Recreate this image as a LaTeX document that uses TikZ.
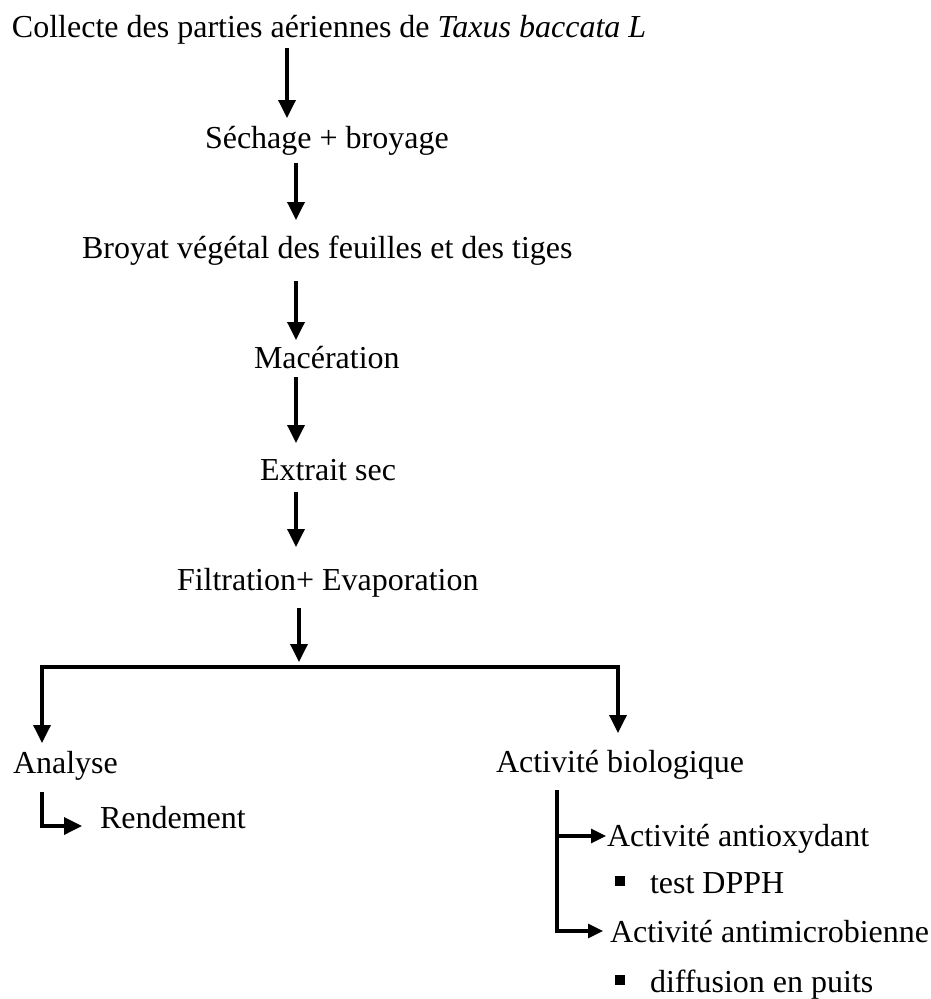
\documentclass[tikz,border=0pt]{standalone}
\usepackage{fontspec}
\setmainfont{Liberation Serif}
\usetikzlibrary{arrows.meta}
\begin{document}
\begin{tikzpicture}[x=1pt,y=-1pt,
  lbl/.style={anchor=base west, inner sep=0pt, outer sep=0pt,
    font=\fontsize{32}{38}\selectfont, text height=22pt, text depth=7pt},
  arr/.style={line width=3.5pt, line join=miter, -{Triangle[width=17pt,length=18pt]}},
  sarr/.style={line width=3.1pt, line join=miter, -{Triangle[width=14pt,length=15pt]}},
  bullet/.style={fill=black, inner sep=0pt, minimum width=10pt, minimum height=10pt}]
\useasboundingbox (0,0) rectangle (931,999);
% text nodes
\node[lbl] (title) at (12,37) {Collecte des parties aériennes de \textit{Taxus baccata L}};
\node[lbl] (sech) at (205,148) {Séchage + broyage};
\node[lbl] (broy) at (82,258) {Broyat végétal des feuilles et des tiges};
\node[lbl] (mac) at (254,368) {Macération};
\node[lbl] (ext) at (260,480) {Extrait sec};
\node[lbl] (filt) at (177,590) {Filtration+ Evaporation};
\node[lbl] (ana) at (13,773) {Analyse};
\node[lbl] (bio) at (496,772) {Activité biologique};
\node[lbl] (rend) at (100,828) {Rendement};
\node[lbl] (antiox) at (607,846) {Activité antioxydant};
\node[lbl] (dpph) at (650,893) {test DPPH};
\node[lbl] (antimic) at (610,942) {Activité antimicrobienne};
\node[lbl] (diff) at (650,992) {diffusion en puits};
\node[bullet] (b1) at (620,881) {};
\node[bullet] (b2) at (620,980) {};
% arrow columns
\coordinate (k1) at (287,0);
\coordinate (k2) at (296,0);
\coordinate (k6) at (299,0);
\coordinate (jm) at (299,667);
\coordinate (jl) at (42,667);
\coordinate (jr) at (618,667);
\coordinate (k7) at (42,0);
\coordinate (k8) at (557,0);
% main chain
\draw[arr, shorten <=4pt, shorten >=8pt] (title.south -| k1) -- (sech.north -| k1);
\draw[arr, shorten <=8pt, shorten >=16pt] (sech.south -| k2) -- (broy.north -| k2);
\draw[arr, shorten <=16pt, shorten >=6pt] (broy.south -| k2) -- (mac.north -| k2);
\draw[arr, shorten <=2pt, shorten >=15pt] (mac.south -| k2) -- (ext.north -| k2);
\draw[arr, shorten <=5pt, shorten >=21pt] (ext.south -| k2) -- (filt.north -| k2);
\draw[arr, shorten <=11pt, shorten >=5pt] (filt.south -| k6) -- (jm);
% branches
\draw[arr, shorten >=8pt] (jm) -- (jl) -- (ana.north -| jl);
\draw[arr, shorten >=17pt] (jm) -- (jr) -- (bio.north -| jr);
% analyse
\draw[arr, shorten >=18pt] ([yshift=-12pt]ana.south -| k7) |- ([yshift=2pt]rend.base west);
% activite biologique
\draw[sarr, shorten >=7pt] ([yshift=-11pt]bio.south -| k8) |- ([yshift=11pt]antimic.base west);
\draw[sarr, shorten >=1pt] ([yshift=10pt]antiox.base west -| k8) -- ([yshift=10pt]antiox.base west);
\end{tikzpicture}
\end{document}
